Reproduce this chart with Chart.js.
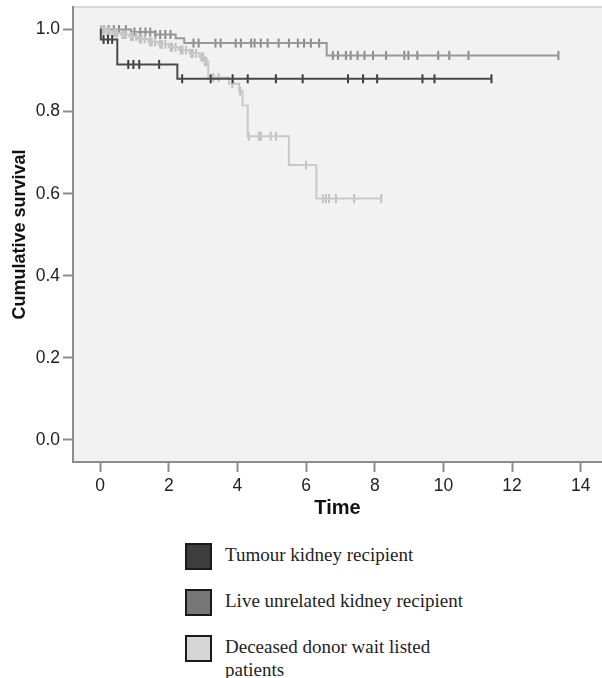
<!DOCTYPE html>
<html>
<head>
<meta charset="utf-8">
<script src="https://cdn.jsdelivr.net/npm/chart.js@4.4.0/dist/chart.umd.min.js"></script>
<style>
  html, body { margin: 0; padding: 0; background: #fff; }
  #wrap { position: relative; width: 602px; height: 678px; }
  #chart { position: absolute; left: 0; top: 0; }
  #legend { position: absolute; left: 185px; top: 543px; font-family: "Liberation Serif", "DejaVu Serif", serif; font-size: 19px; color: #1e1e1e; }
  .item { display: flex; align-items: flex-start; height: 46px; }
  .box { width: 23px; height: 23px; border: 2px solid #1a1a1a; margin-right: 13px; flex: none; }
  .txt { line-height: 23px; width: 262px; margin-top: 0px; }
</style>
</head>
<body>
<div id="wrap">
  <canvas id="chart" width="602" height="525"></canvas>
  <div id="legend"></div>
</div>
<script>
const seriesNames = ['Tumour kidney recipient', 'Live unrelated kidney recipient', 'Deceased donor wait listed patients'];
const lineColors = ['#4a4a4a', '#989898', '#c9c9c9'];
const markColors = ['#3c3c3c', '#8a8a8a', '#c0c0c0'];
const boxColors = ['#3d3d3d', '#777777', '#d5d5d5'];

// step points: time at which survival changes, and the new value
const tumourTimes = [0, 0.02, 0.5, 2.25, 11.4];
const tumourSurv = [1.0, 0.976, 0.915, 0.88, 0.88];
const tumourCensored = [0.1, 0.23, 0.35, 0.82, 0.97, 1.14, 1.72, 2.39, 3.22, 3.86, 4.3, 5.12, 5.9, 7.22, 7.66, 8.07, 9.39, 9.74, 11.4];

const liveTimes = [0, 0.9, 1.6, 2.2, 2.45, 6.6, 13.35];
const liveSurv = [1.0, 0.994, 0.988, 0.979, 0.967, 0.937, 0.937];
const liveCensored = [0.25, 0.4, 0.55, 0.75, 1.0, 1.17, 1.32, 1.46, 1.61, 1.75, 1.9, 2.05, 2.72, 2.87, 3.36, 3.51, 3.95, 4.1, 4.4, 4.5, 4.68, 4.88, 5.2, 5.5, 5.76, 5.94, 6.14, 6.38, 6.78, 6.93, 7.16, 7.3, 7.5, 7.7, 7.95, 8.33, 8.86, 8.98, 9.24, 9.85, 10.17, 10.73, 13.35];

const deadTimes = [0, 0.15, 0.35, 0.6, 0.85, 1.1, 1.4, 1.7, 2.0, 2.3, 2.6, 2.9, 3.05, 3.15, 3.75, 4.05, 4.15, 4.3, 5.5, 6.3, 8.2];
const deadSurv = [1.0, 0.996, 0.992, 0.988, 0.983, 0.977, 0.97, 0.964, 0.957, 0.95, 0.942, 0.933, 0.922, 0.883, 0.868, 0.85, 0.815, 0.74, 0.67, 0.588, 0.588];
const deadCensored = [0.02, 0.05, 0.08, 0.12, 0.2, 0.24, 0.28, 0.4, 0.45, 0.5, 0.65, 0.7, 0.75, 0.9, 0.95, 1.05, 1.15, 1.2, 1.3, 1.45, 1.5, 1.6, 1.75, 1.8, 1.9, 2.05, 2.1, 2.2, 2.35, 2.4, 2.5, 2.65, 2.7, 2.8, 2.95, 3.0, 3.05, 3.1, 3.3, 3.45, 3.85, 4.08, 4.33, 4.62, 4.68, 4.97, 5.12, 6.0, 6.49, 6.58, 6.67, 6.87, 7.4, 8.19];

const xTicks = [0, 2, 4, 6, 8, 10, 12, 14];
const yTicks = [0, 0.2, 0.4, 0.6, 0.8, 1.0];

function survAt(times, surv, t) {
    let s = surv[0];
    for (let i = 0; i < times.length; i++) {
        if (times[i] <= t) s = surv[i];
    }
    return s;
}

const groups = [
    { times: tumourTimes, surv: tumourSurv, cens: tumourCensored, order: 0 },
    { times: liveTimes, surv: liveSurv, cens: liveCensored, order: 2 },
    { times: deadTimes, surv: deadSurv, cens: deadCensored, order: 1 }
];

const datasets = [];
groups.forEach((g, i) => {
    datasets.push({
        label: seriesNames[i],
        data: g.times.map((t, k) => ({ x: t, y: g.surv[k] })),
        stepped: 'before',
        borderColor: lineColors[i],
        borderWidth: 2,
        pointRadius: 0,
        fill: false,
        order: g.order
    });
    datasets.push({
        label: seriesNames[i] + ' censored',
        data: g.cens.map(t => ({ x: t, y: survAt(g.times, g.surv, t) })),
        showLine: false,
        pointStyle: 'line',
        rotation: 90,
        pointRadius: 4.5,
        pointBorderWidth: 2,
        pointBorderColor: markColors[i],
        borderColor: markColors[i],
        order: g.order
    });
});

const plotBg = {
    id: 'plotBg',
    beforeDraw(chart) {
        const { ctx, chartArea: a } = chart;
        ctx.save();
        ctx.fillStyle = '#f2f2f2';
        ctx.fillRect(a.left, a.top, a.right - a.left, a.bottom - a.top);
        ctx.strokeStyle = '#cfcfcf';
        ctx.lineWidth = 1.5;
        ctx.beginPath();
        ctx.moveTo(a.left, a.top);
        ctx.lineTo(a.right, a.top);
        ctx.stroke();
        ctx.restore();
    }
};

const tickFont = { family: '"Liberation Sans", Arial, sans-serif', size: 17.5 };

new Chart(document.getElementById('chart'), {
    type: 'line',
    data: { datasets: datasets },
    plugins: [plotBg],
    options: {
        responsive: false,
        animation: false,
        layout: { autoPadding: false, padding: { top: 7, right: 0, left: 0, bottom: 0 } },
        plugins: { legend: { display: false }, tooltip: { enabled: false } },
        scales: {
            x: {
                type: 'linear',
                min: -0.79,
                max: 14.62,
                afterBuildTicks: s => { s.ticks = xTicks.map(v => ({ value: v })); },
                afterFit: s => { s.height = 63; },
                grid: { drawOnChartArea: false, drawTicks: true, tickLength: 10, tickColor: '#8c8c8c', tickWidth: 2 },
                border: { display: true, color: '#8c8c8c', width: 2 },
                ticks: { color: '#222', font: tickFont, padding: 4, maxRotation: 0 },
                title: { display: true, text: 'Time', color: '#111', font: { family: tickFont.family, size: 20, weight: 'bold' }, padding: { top: 0, bottom: 5 } }
            },
            y: {
                type: 'linear',
                min: -0.054,
                max: 1.055,
                afterBuildTicks: s => { s.ticks = yTicks.map(v => ({ value: v })); },
                afterFit: s => { s.width = 73; s.paddingTop = 0; s.paddingBottom = 0; },
                grid: { drawOnChartArea: false, drawTicks: true, tickLength: 10, tickColor: '#8c8c8c', tickWidth: 2 },
                border: { display: true, color: '#8c8c8c', width: 2 },
                ticks: { color: '#222', font: tickFont, padding: 3, callback: v => v.toFixed(1) },
                title: { display: true, text: 'Cumulative survival', color: '#111', font: { family: tickFont.family, size: 18, weight: 'bold' }, padding: { top: 9, bottom: 0 } }
            }
        }
    }
});

const legend = document.getElementById('legend');
seriesNames.forEach((name, i) => {
    const item = document.createElement('div');
    item.className = 'item';
    const box = document.createElement('div');
    box.className = 'box';
    box.style.background = boxColors[i];
    const txt = document.createElement('div');
    txt.className = 'txt';
    txt.textContent = name;
    item.appendChild(box);
    item.appendChild(txt);
    legend.appendChild(item);
});
</script>
</body>
</html>
